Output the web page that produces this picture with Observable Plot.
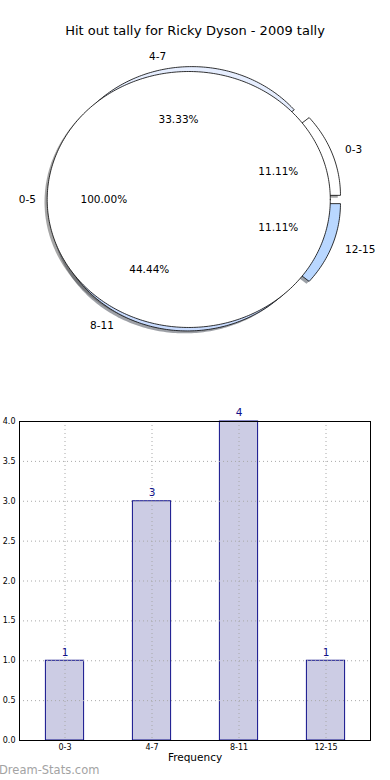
<!DOCTYPE html>
<html>
<head>
<meta charset="utf-8">
<script src="https://cdn.jsdelivr.net/npm/d3@7"></script>
<script src="https://cdn.jsdelivr.net/npm/@observablehq/plot@0.6"></script>
<style>
  html, body { margin: 0; padding: 0; background: #fff; }
  body { width: 390px; height: 780px; overflow: hidden; position: relative; font-family: "DejaVu Sans", sans-serif; }
  #title { position: absolute; top: 0; left: 0; width: 390px; height: 45px; box-sizing: border-box; padding-top: 23px; text-align: center; font-size: 13px; line-height: 15px; color: #000; }
  #pie { position: absolute; top: 45px; left: 0; }
  #bars { position: absolute; top: 375px; left: 0; }
  #mark { position: absolute; top: 762px; left: -1px; font-size: 11.5px; line-height: 16px; color: #a3a3a3; }
</style>
</head>
<body>
<div id="title">Hit out tally for Ricky Dyson - 2009 tally</div>
<div id="pie"></div>
<div id="bars"></div>
<div id="mark">Dream-Stats.com</div>
<script>
// ---- data ----
const ringLabels = ["0-3", "4-7", "8-11", "12-15"];
const ringValues = [1, 3, 4, 1];
const ringColors = ["#ffffff", "#e6eeff", "#c9dcff", "#b9d7ff"];
const innerLabels = ["0-5"];
const innerValues = [9];
const innerColors = ["#ffffff"];
const barCategories = ["0-3", "4-7", "8-11", "12-15"];
const barValues = [1, 3, 4, 1];
const yTicks = [0, 0.5, 1, 1.5, 2, 2.5, 3, 3.5, 4];

// ---- pie geometry ----
const explode = 0.1, innerShift = 0.04, innerR = 1.058;
const shadowOff = 0.02;
const rad = Math.PI / 180;

function arcPts(cx, cy, r, a1, a2, withCenter) {
  const pts = [];
  if (withCenter) pts.push([cx, cy]);
  const n = Math.max(4, Math.ceil(a2 - a1));
  for (let k = 0; k <= n; k++) {
    const t = (a1 + (a2 - a1) * k / n) * rad;
    pts.push([cx + r * Math.cos(t), cy + r * Math.sin(t)]);
  }
  if (withCenter) pts.push([cx, cy]);
  return pts;
}
function shade(c) { const r = d3.rgb(c); return d3.rgb(r.r * 0.3, r.g * 0.3, r.b * 0.3).formatHex(); }

const total = d3.sum(ringValues);
let acc = 0;
const wedges = ringValues.map((v, i) => {
  const a1 = acc / total * 360; acc += v; const a2 = acc / total * 360;
  const mid = (a1 + a2) / 2 * rad;
  const cx = explode * Math.cos(mid), cy = explode * Math.sin(mid);
  return {
    label: ringLabels[i], pct: v / total * 100, mid, cx, cy, color: ringColors[i],
    pts: arcPts(cx, cy, 1, a1, a2, true)
  };
});
const innerTotal = d3.sum(innerValues);
const inner = innerValues.map((v, i) => {
  const cx = -innerShift, cy = 0;
  return { label: innerLabels[i], pct: v / innerTotal * 100, mid: Math.PI, cx, cy, color: innerColors[i],
    pts: arcPts(cx, cy, innerR, 0, 360, false) };
});

const marks = [];
const shift = pts => pts.map(p => [p[0] - shadowOff, p[1] - shadowOff]);
for (const w of [...wedges, ...inner]) {
  marks.push(Plot.line(shift(w.pts), { x: d => d[0], y: d => d[1], fill: shade(w.color), fillOpacity: 0.5, stroke: "none", curve: "linear" }));
}
for (const w of [...wedges, ...inner]) {
  marks.push(Plot.line(w.pts, { x: d => d[0], y: d => d[1], fill: w.color, stroke: "#000", strokeWidth: 0.8, curve: "linear", strokeLinejoin: "miter" }));
}
const labelRows = [
  ...wedges.map(w => ({ x: w.cx + 1.1 * Math.cos(w.mid), y: w.cy + 1.1 * Math.sin(w.mid), t: w.label })),
  ...inner.map(w => ({ x: w.cx + 1.08 * innerR * Math.cos(w.mid), y: w.cy + 1.08 * innerR * Math.sin(w.mid), t: w.label }))
];
const pctRows = [
  ...wedges.map(w => ({ x: w.cx + 0.57 * Math.cos(w.mid), y: w.cy + 0.57 * Math.sin(w.mid), t: w.pct.toFixed(2) + "%" })),
  ...inner.map(w => ({ x: w.cx + 0.6 * innerR * Math.cos(w.mid), y: w.cy + 0.6 * innerR * Math.sin(w.mid), t: w.pct.toFixed(2) + "%" }))
];
marks.push(Plot.text(labelRows.filter(d => d.x >= 0), { x: "x", y: "y", text: "t", textAnchor: "start", fontSize: 10.5, fill: "#000" }));
marks.push(Plot.text(labelRows.filter(d => d.x < 0), { x: "x", y: "y", text: "t", textAnchor: "end", fontSize: 10.5, fill: "#000" }));
marks.push(Plot.text(pctRows, { x: "x", y: "y", text: "t", textAnchor: "middle", fontSize: 10.5, fill: "#000" }));

const pie = Plot.plot({
  width: 390, height: 330, margin: 0,
  style: { fontFamily: "DejaVu Sans", background: "transparent", overflow: "visible" },
  x: { domain: [-1.447, 1.468], axis: null },
  y: { domain: [-1.455, 1.273], axis: null },
  marks
});
document.getElementById("pie").appendChild(pie);

// ---- bar chart ----
const rows = barCategories.map((c, i) => ({ c, v: barValues[i] }));
const bars = Plot.plot({
  width: 390, height: 405,
  marginLeft: 19, marginRight: 20, marginTop: 46, marginBottom: 40,
  style: { fontFamily: "DejaVu Sans", fontSize: "8px", background: "transparent", overflow: "visible", color: "#000" },
  x: { type: "band", domain: barCategories, padding: 0 },
  y: { domain: [0, 4] },
  marks: [
    Plot.barY(rows, { x: "c", y: "v", fill: "#ccccE4", stroke: "#10108a", strokeWidth: 1, insetLeft: 24.4, insetRight: 24.4 }),
    Plot.gridY(yTicks, { stroke: "#a8a8a8", strokeOpacity: 1, strokeDasharray: "1,3" }),
    Plot.ruleX(barCategories, { x: d => d, stroke: "#a8a8a8", strokeDasharray: "1,3" }),
    Plot.text(rows, { x: "c", y: "v", text: d => String(d.v), dy: -8.5, fill: "#10108a", fontSize: 10.5 }),
    Plot.frame({ stroke: "#000", strokeWidth: 1 }),
    Plot.axisY(yTicks, { tickSize: 0, tickPadding: 4, tickFormat: d => d.toFixed(1), label: null, fontSize: 8 }),
    Plot.axisX({ tickSize: 0, tickPadding: 4, label: null, fontSize: 8 }),
    Plot.text(["Frequency"], { frameAnchor: "bottom", dy: 20, text: d => d, fontSize: 10.5, fill: "#000" })
  ]
});
document.getElementById("bars").appendChild(bars);
</script>
</body>
</html>
